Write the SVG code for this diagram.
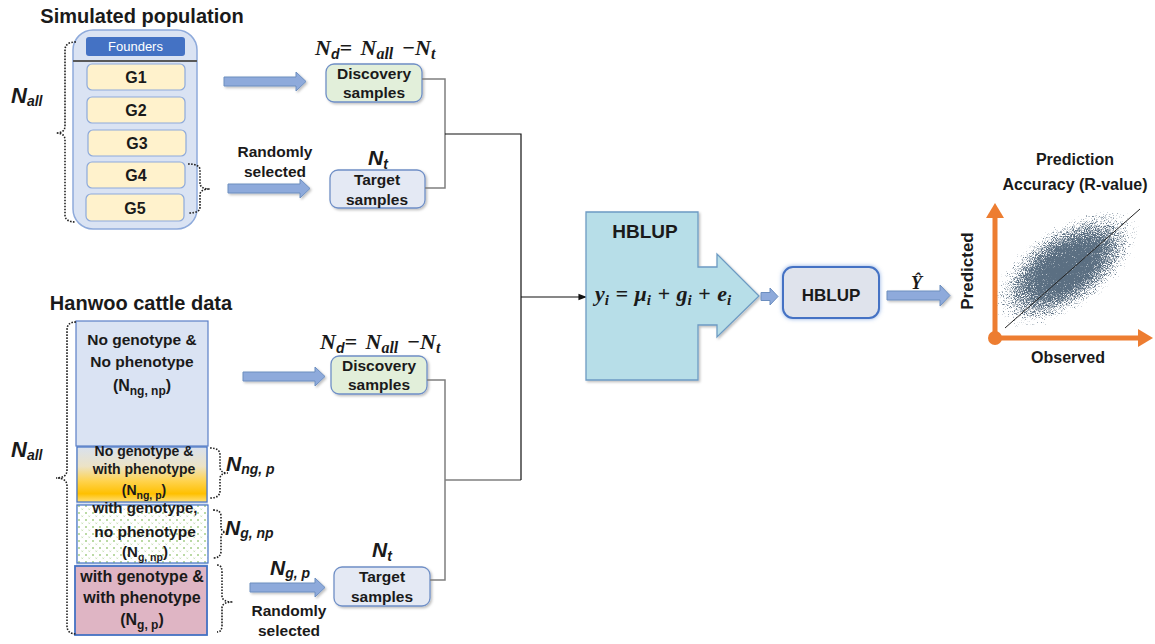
<svg xmlns="http://www.w3.org/2000/svg" width="1155" height="644" viewBox="0 0 1155 644">
<defs>
<style>
.t{font-family:"Liberation Sans",Arial,sans-serif;font-weight:bold;fill:#1a1a1a}
.c{text-anchor:middle}
.m{font-family:"Liberation Serif","Times New Roman",serif;font-weight:bold;font-style:italic;fill:#1a1a1a}
.ni{font-family:"Liberation Sans",Arial,sans-serif;font-weight:bold;font-style:italic;fill:#1a1a1a}
.brace{fill:none;stroke:#222;stroke-width:1.6;stroke-dasharray:1.6 1.4}
.blk{fill:#8eaadb;stroke:#6c8ebf;stroke-width:1}
.gbox{fill:#fff2cc;stroke:#8eaadb;stroke-width:1.2}
.disc{fill:#e2efda;stroke:#6f8fc6;stroke-width:1.3}
.targ{fill:#e4e9f4;stroke:#6f8fc6;stroke-width:1.3}
.hb{fill:#4472c4;stroke:none}
.gray{fill:none;stroke:#7f7f7f;stroke-width:1.5}
.blackline{fill:none;stroke:#111;stroke-width:1.2}
.orange{stroke:#ed7d31;stroke-width:5;fill:none}
</style>
<linearGradient id="gy" x1="0" y1="0" x2="0" y2="1">
<stop offset="0" stop-color="#d9e1ee"/>
<stop offset="0.35" stop-color="#ece3c6"/>
<stop offset="0.62" stop-color="#ffd34d"/>
<stop offset="0.85" stop-color="#ffc000"/>
<stop offset="1" stop-color="#ffdf7a"/>
</linearGradient>
<pattern id="dots" width="7" height="7" patternUnits="userSpaceOnUse">
<rect width="7" height="7" fill="#ffffff"/>
<path d="M1,1 l2,2 M3,1 l-2,2" stroke="#a9d18e" stroke-width="0.8"/>
<path d="M4.5,4.5 l1.6,1.6 M6.1,4.5 l-1.6,1.6" stroke="#c5e0b4" stroke-width="0.8"/>
</pattern>
<radialGradient id="cloud">
<stop offset="0" stop-color="#5a6d7f" stop-opacity="0.95"/>
<stop offset="0.35" stop-color="#5a6d7f" stop-opacity="0.85"/>
<stop offset="0.65" stop-color="#5a6d7f" stop-opacity="0.55"/>
<stop offset="0.85" stop-color="#5a6d7f" stop-opacity="0.3"/>
<stop offset="1" stop-color="#5a6d7f" stop-opacity="0"/>
</radialGradient>
<filter id="speckle" x="-10%" y="-10%" width="120%" height="120%" color-interpolation-filters="sRGB">
<feTurbulence type="fractalNoise" baseFrequency="1.1" numOctaves="2" seed="7" result="n"/>
<feColorMatrix in="n" type="matrix" values="0 0 0 0 0  0 0 0 0 0  0 0 0 0 0  1 0 0 0 0" result="na"/>
<feComposite in="SourceAlpha" in2="na" operator="arithmetic" k1="0" k2="0.9" k3="-1" k4="0.1" result="d"/>
<feComponentTransfer in="d" result="mask"><feFuncA type="linear" slope="4" intercept="0"/></feComponentTransfer>
<feFlood flood-color="#5b6f82"/>
<feComposite in2="mask" operator="in"/>
</filter>
<filter id="sh" x="-10%" y="-10%" width="130%" height="130%">
<feDropShadow dx="1.5" dy="1.5" stdDeviation="1" flood-color="#000" flood-opacity="0.25"/>
</filter>
<filter id="glow" x="-20%" y="-20%" width="140%" height="140%">
<feDropShadow dx="0" dy="0" stdDeviation="2" flood-color="#5b8bd6" flood-opacity="0.7"/>
</filter>
<marker id="ah" viewBox="0 0 10 10" refX="9" refY="5" markerWidth="7" markerHeight="7" orient="auto">
<path d="M0,1 L10,5 L0,9 Z" fill="#111"/>
</marker>
</defs>
<rect width="1155" height="644" fill="#ffffff"/>

<!-- Simulated population -->
<g id="simulated">
<text class="t c" x="142" y="23" font-size="20">Simulated population</text>
<rect x="73" y="30" width="124" height="199" rx="20" fill="#dae3f3" stroke="#8eaadb" stroke-width="1.5"/>
<line x1="73" y1="61" x2="197" y2="61" stroke="#595959" stroke-width="2"/>
<g id="founders"><rect x="86" y="37" width="99" height="19" rx="3" class="hb"/>
<text x="135.5" y="51" font-family="Liberation Sans,Arial,sans-serif" font-size="13" fill="#ffffff" text-anchor="middle">Founders</text></g>
<g id="g1"><rect class="gbox" x="87" y="64" width="98" height="26" rx="5"/><text class="t c" x="136" y="83" font-size="16">G1</text></g>
<g id="g2"><rect class="gbox" x="87" y="97" width="98" height="26" rx="5"/><text class="t c" x="136" y="116" font-size="16">G2</text></g>
<g id="g3"><rect class="gbox" x="88" y="130" width="98" height="26" rx="5"/><text class="t c" x="137" y="149" font-size="16">G3</text></g>
<g id="g4"><rect class="gbox" x="87" y="162" width="98" height="26" rx="5"/><text class="t c" x="136" y="181" font-size="16">G4</text></g>
<g id="g5"><rect class="gbox" x="86" y="194" width="98" height="27" rx="5"/><text class="t c" x="135" y="214" font-size="16">G5</text></g>
</g>
<g id="nall-top">
<text class="ni" x="11" y="103" font-size="22">N<tspan font-size="14" dy="3">all</tspan></text>
<path class="brace" d="M76,42 Q65,42 65,50 V126 Q65,133 56,133 Q65,133 65,140 V215 Q65,222 76,222"/>
</g>
<path class="brace" d="M188,164 Q200,164 200,170 V183 Q200,189 210,189 Q200,189 200,195 V207 Q200,213 189,213"/>

<!-- top arrows and labels -->
<g id="arrow-top-1"><path class="blk" filter="url(#sh)" d="M224,77 H296 V72 L306,81.5 L296,91 V86 H224 Z"/></g>
<g id="arrow-top-2"><path class="blk" filter="url(#sh)" d="M228,184 H300 V179 L310,188.5 L300,198 V193 H228 Z"/></g>
<text class="t c" x="275" y="157" font-size="15.5">Randomly</text>
<text class="t c" x="275" y="177" font-size="15.5">selected</text>
<text class="m" x="315" y="55" font-size="22" word-spacing="3">N<tspan font-size="14" dy="4" font-family="Liberation Sans,Arial,sans-serif">d</tspan><tspan dy="-4">= N</tspan><tspan font-size="16" dy="4">all</tspan><tspan dy="-4"> −N</tspan><tspan font-size="16" dy="4">t</tspan></text>
<g id="discovery-top"><rect class="disc" filter="url(#sh)" x="326" y="64" width="96" height="38" rx="8"/>
<text class="t c" x="374" y="79" font-size="15.5">Discovery</text><text class="t c" x="374" y="98" font-size="15.5">samples</text></g>
<text class="ni" x="368" y="165" font-size="21">N<tspan font-size="14" dy="4">t</tspan></text>
<g id="target-top"><rect class="targ" filter="url(#sh)" x="330" y="170" width="95" height="38" rx="8"/>
<text class="t c" x="377" y="185" font-size="15.5">Target</text><text class="t c" x="377" y="205" font-size="15.5">samples</text></g>

<!-- Hanwoo cattle data -->
<g id="hanwoo">
<text class="t c" x="141" y="310" font-size="20">Hanwoo cattle data</text>
<rect x="76" y="321" width="132" height="314" fill="#dae3f3"/>
<g id="box-ngnp"><rect x="76" y="321" width="132" height="125" fill="#dae3f3" stroke="#5b7fc7" stroke-width="1.2"/>
<text class="t c" x="142" y="345" font-size="15.5">No genotype &amp;</text>
<text class="t c" x="142" y="367" font-size="15.5">No phenotype</text>
<text class="t c" x="142" y="391" font-size="16" font-weight="normal">(N<tspan font-size="12" dy="4">ng, np</tspan><tspan dy="-4">)</tspan></text></g>
<g id="box-ngp"><rect x="77" y="447" width="130" height="55" fill="url(#gy)" stroke="#4472c4" stroke-width="1.2"/>
<text class="t c" x="144" y="456" font-size="14">No genotype &amp;</text>
<text class="t c" x="144" y="474" font-size="14">with phenotype</text>
<text class="t c" x="144" y="495" font-size="14" font-weight="normal">(N<tspan font-size="10.5" dy="4">ng, p</tspan><tspan dy="-4">)</tspan></text></g>
<g id="box-gnp"><rect x="77" y="505" width="131" height="58" fill="url(#dots)" stroke="#4472c4" stroke-width="1.2"/>
<text class="t c" x="145" y="513" font-size="15">with genotype,</text>
<text class="t c" x="145" y="537" font-size="15.5">no phenotype</text>
<text class="t c" x="145" y="557" font-size="15" font-weight="normal">(N<tspan font-size="10.5" dy="4">g, np</tspan><tspan dy="-4">)</tspan></text></g>
<g id="box-gp"><rect x="75" y="566" width="132" height="69" fill="#dfb5c4" stroke="#4472c4" stroke-width="1.8"/>
<text class="t c" x="142" y="582" font-size="16">with genotype &amp;</text>
<text class="t c" x="142" y="603" font-size="16">with phenotype</text>
<text class="t c" x="142" y="625" font-size="16" font-weight="normal">(N<tspan font-size="12" dy="4">g, p</tspan><tspan dy="-4">)</tspan></text></g>
</g>
<g id="nall-bottom">
<text class="ni" x="11" y="457" font-size="22">N<tspan font-size="14" dy="3">all</tspan></text>
<path class="brace" d="M76,322 Q67,322 67,330 V470 Q67,478 56,478 Q67,478 67,486 V626 Q67,634 77,634"/>
</g>
<path class="brace" d="M210,448 Q220,448 220,455 V467 Q220,473 228,473 Q220,473 220,479 V491 Q220,498 210,498"/>
<path class="brace" d="M213,510 Q221,510 221,516 V527 Q221,532 227,532 Q221,532 221,538 V551 Q221,558 213,558"/>
<path class="brace" d="M217,565 Q222,565 222,572 V596 Q222,602 233,602 Q222,602 222,608 V625 Q222,632 217,632"/>
<text class="ni" x="226" y="471" font-size="21">N<tspan font-size="14" dy="3">ng, p</tspan></text>
<text class="ni" x="225" y="535" font-size="21">N<tspan font-size="14" dy="3">g, np</tspan></text>

<!-- bottom arrows and labels -->
<g id="arrow-bot-1"><path class="blk" filter="url(#sh)" d="M243,372 H315 V367 L325,376.5 L315,386 V381 H243 Z"/></g>
<g id="arrow-bot-2"><path class="blk" filter="url(#sh)" d="M250,583 H315 V578 L325,587.5 L315,597 V592 H250 Z"/></g>
<text class="ni" x="270" y="575" font-size="21">N<tspan font-size="14" dy="3">g, p</tspan></text>
<text class="t c" x="289" y="616" font-size="15.5">Randomly</text>
<text class="t c" x="289" y="636" font-size="15.5">selected</text>
<text class="m" x="320" y="349" font-size="22" word-spacing="3">N<tspan font-size="14" dy="4" font-family="Liberation Sans,Arial,sans-serif">d</tspan><tspan dy="-4">= N</tspan><tspan font-size="16" dy="4">all</tspan><tspan dy="-4"> −N</tspan><tspan font-size="16" dy="4">t</tspan></text>
<g id="discovery-bot"><rect class="disc" filter="url(#sh)" x="331" y="356" width="96" height="38" rx="8"/>
<text class="t c" x="379" y="371" font-size="15.5">Discovery</text><text class="t c" x="379" y="390" font-size="15.5">samples</text></g>
<text class="ni" x="372" y="557" font-size="21">N<tspan font-size="14" dy="4">t</tspan></text>
<g id="target-bot"><rect class="targ" filter="url(#sh)" x="334" y="567" width="96" height="39" rx="8"/>
<text class="t c" x="382" y="582" font-size="15.5">Target</text><text class="t c" x="382" y="602" font-size="15.5">samples</text></g>

<!-- connectors -->
<g id="connectors">
<path class="gray" d="M422,79 H445 V188 H425"/>
<path class="gray" d="M427,380 H445 V580 H430"/>
<path class="gray" d="M445,480 H521"/>
<path class="blackline" d="M445,134 H521 V480"/>
<path class="blackline" d="M521,297 H586" marker-end="url(#ah)"/>
</g>

<!-- HBLUP model -->
<g id="hblup-model">
<path d="M586,212 H698 V267 H717 V254 L759,296 L717,337 V325 H698 V380 H586 Z" fill="#b7dee8" stroke="#6d9bc3" stroke-width="1.3" filter="url(#sh)"/>
<text class="t c" x="645" y="238" font-size="19">HBLUP</text>
<text class="m" x="595" y="301" font-size="22" word-spacing="1">y<tspan font-size="15" dy="4">i</tspan><tspan dy="-4"> = μ</tspan><tspan font-size="15" dy="4">i</tspan><tspan dy="-4"> + g</tspan><tspan font-size="15" dy="4">i</tspan><tspan dy="-4"> + e</tspan><tspan font-size="15" dy="4">i</tspan></text>
</g>
<g id="arrow-small"><path class="blk" d="M761,292.5 H770 V288 L778,296.5 L770,305 V300.5 H761 Z"/></g>
<g id="hblup-box">
<rect x="783" y="267" width="96" height="51" rx="10" fill="#dfe3ec" stroke="#4472c4" stroke-width="2" filter="url(#glow)"/>
<text class="t c" x="831" y="301" font-size="17">HBLUP</text>
</g>
<g id="arrow-yhat"><path class="blk" filter="url(#sh)" d="M887,291 H940 V285 L950,295.5 L940,306 V300 H887 Z"/></g>
<text class="m" x="911" y="289" font-size="18">Ŷ</text>

<!-- Scatter plot -->
<g id="scatter">
<text class="t c" x="1075" y="165" font-size="16">Prediction</text>
<text class="t c" x="1075" y="190" font-size="16">Accuracy (R-value)</text>
<g filter="url(#speckle)">
<ellipse cx="1066" cy="268" rx="92" ry="46" fill="url(#cloud)" transform="rotate(-35 1066 268)"/>
</g>
<line x1="1005" y1="328" x2="1140" y2="209" stroke="#222" stroke-width="1"/>
<line class="orange" x1="995" y1="338" x2="995" y2="216"/>
<polygon points="995,203 1004,218 986,218" fill="#ed7d31"/>
<line class="orange" x1="995" y1="338" x2="1140" y2="338"/>
<polygon points="1153,338 1138,329 1138,347" fill="#ed7d31"/>
<circle cx="995" cy="338" r="7" fill="#ed7d31"/>
<text class="t c" x="1068" y="363" font-size="16">Observed</text>
<text class="t c" font-size="17" transform="translate(973,271) rotate(-90)">Predicted</text>
</g>
</svg>
